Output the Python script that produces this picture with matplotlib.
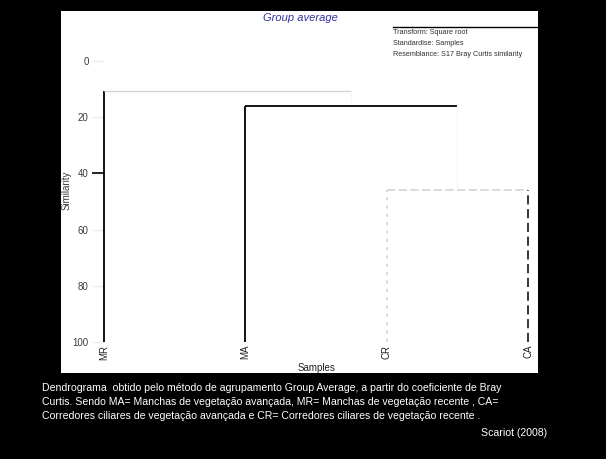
import numpy as np
import matplotlib
matplotlib.use('Agg')
import matplotlib.pyplot as plt
from matplotlib.markers import TICKLEFT

plt.rcParams['font.family'] = ['Liberation Sans', 'DejaVu Sans']

# data
leaves = ['MR', 'MA', 'CR', 'CA']
leaf_pos = [0, 1, 2, 3]
# merge similarities
sim_cr_ca = 46.0
sim_ma = 16.0
sim_mr = 10.7
y_ticks = [0, 20, 40, 60, 80, 100]
dark_tick = 40

legend_lines = ['Transform: Square root',
                'Standardise: Samples',
                'Resemblance: S17 Bray Curtis similarity']

caption = ['Dendrograma  obtido pelo método de agrupamento Group Average, a partir do coeficiente de Bray',
           'Curtis. Sendo MA= Manchas de vegetação avançada, MR= Manchas de vegetação recente , CA=',
           'Corredores ciliares de vegetação avançada e CR= Corredores ciliares de vegetação recente .']
source = 'Scariot (2008)'

W, H = 606, 459
fig = plt.figure(figsize=(W / 100, H / 100), dpi=100, facecolor='black')

def fx(px):
    return px / W

def fy(py):
    return 1 - py / H

# white panel
bg = fig.add_axes([fx(61), fy(373), fx(538) - fx(61), fy(11) - fy(373)])
bg.set_facecolor('white')
bg.set_xticks([])
bg.set_yticks([])
for s in bg.spines.values():
    s.set_visible(False)

# main axes: x=0 at pixel 104, y=0 at pixel 61, y=100 at pixel 342
ax = fig.add_axes([fx(104), fy(342), fx(538) - fx(104), fy(61) - fy(342)])
ax.set_facecolor('none')
ax.set_xlim(0, 3.07)
ax.set_ylim(100, 0)
for s in ax.spines.values():
    s.set_visible(False)

# cluster centres
c_crca = (leaf_pos[2] + leaf_pos[3]) / 2
c_ma = (leaf_pos[1] + c_crca) / 2

faint = '#d4d4d4'
ghost = '#f7f7f7'
segs = [
    # (x, y, color, linestyle, lw)
    ([leaf_pos[0], leaf_pos[0]], [100, sim_mr], 'black', '-', 1.3),
    ([leaf_pos[0], c_ma], [sim_mr, sim_mr], faint, '-', 1.0),
    ([c_ma, c_ma], [sim_mr, sim_ma], ghost, '-', 1.0),
    ([leaf_pos[1], leaf_pos[1]], [100, sim_ma], 'black', '-', 1.3),
    ([leaf_pos[1], c_crca], [sim_ma, sim_ma], 'black', '-', 1.3),
    ([c_crca, c_crca], [sim_ma, sim_cr_ca], ghost, '-', 1.0),
    ([leaf_pos[2], leaf_pos[3]], [sim_cr_ca, sim_cr_ca], faint, (0, (5, 2)), 1.2),
    ([leaf_pos[2], leaf_pos[2]], [100, sim_cr_ca], faint, (0, (2, 3)), 1.2),
    ([leaf_pos[3], leaf_pos[3]], [100, sim_cr_ca], 'black', (0, (6, 3)), 1.1),
]
for x, y, c, ls, lw in segs:
    ax.plot(x, y, color=c, linestyle=ls, linewidth=lw, clip_on=False, solid_capstyle='butt')

# y axis
ax.set_yticks(y_ticks)
ax.set_yticklabels([str(t) for t in y_ticks])
ax.tick_params(axis='y', direction='out', length=9, width=1.0, pad=2,
               labelsize=7, labelcolor='#3a3a3a', color='#ececec')
# the one dark tick mark
ax.plot([0], [dark_tick], marker=TICKLEFT, markersize=9, markeredgewidth=1.2,
        color='black', linestyle='none', clip_on=False)

# leaf labels
ax.set_xticks(leaf_pos)
ax.set_xticklabels(leaves, rotation=90, fontsize=7, color='#202020')
ax.tick_params(axis='x', length=0, pad=2)

fig.text(fx(67), fy(190), 'Similarity', rotation=90, ha='center', va='center',
         fontsize=7, color='#3a3a3a')
fig.text(fx(316), fy(368), 'Samples', ha='center', va='center', fontsize=7, color='#202020')

# title
fig.text(fx(300), fy(18), 'Group average', ha='center', va='center', fontsize=8,
         style='italic', color='#3030a0')

# legend block
fig.add_artist(plt.Line2D([fx(393), fx(537)], [fy(27), fy(27)], color='black', lw=1.0,
                          transform=fig.transFigure))
for i, line in enumerate(legend_lines):
    fig.text(fx(393), fy(33 + 10.5 * i), line, ha='left', va='center', fontsize=5.2,
             color='#303030')

# caption
for i, line in enumerate(caption):
    fig.text(fx(42), fy(388 + 14 * i), line, ha='left', va='center', fontsize=7.6,
             color='white')
fig.text(fx(547), fy(433), source, ha='right', va='center', fontsize=7.6, color='white')

fig.savefig('out.png', dpi=100, facecolor='black')
